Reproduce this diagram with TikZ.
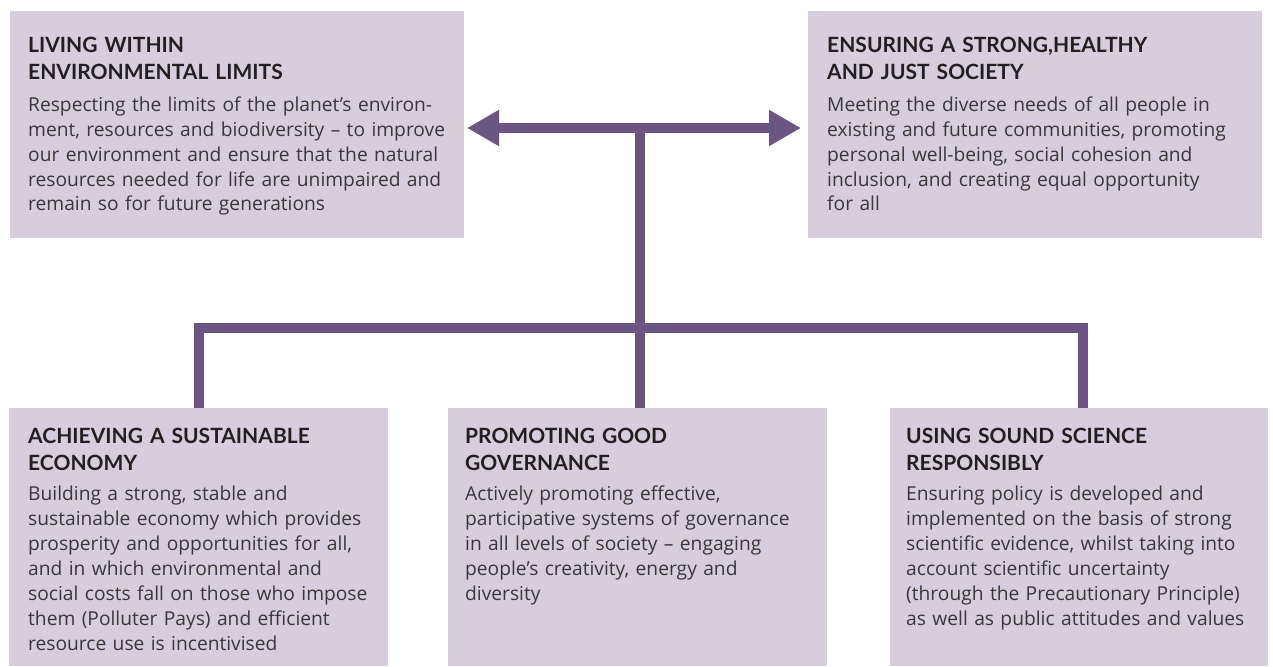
\documentclass[tikz,border=0pt]{standalone}
\usepackage{fontspec}
\setmainfont{Open Sans}
\newfontfamily\ttlfont{Lato}
\usetikzlibrary{arrows.meta}
\definecolor{boxfill}{HTML}{D6CEDD}
\definecolor{purp}{HTML}{6B5583}
\definecolor{ttlc}{HTML}{231F20}
\definecolor{bodyc}{HTML}{3A373A}
\begin{document}
\begin{tikzpicture}[x=1pt,y=1pt,
  panel/.style={fill=boxfill, draw=none, anchor=north west, inner sep=0pt},
  ttl/.style={anchor=base west, inner sep=0pt, align=left, text width=440pt, text=ttlc,
    font=\ttlfont\bfseries\fontsize{21}{27}\selectfont},
  bdy/.style={anchor=base west, inner sep=0pt, align=left, text width=440pt, text=bodyc,
    font=\fontsize{19.2}{25}\selectfont},
  conn/.style={draw=purp, line width=10pt, line join=miter},
  bigtri/.tip={Triangle[length=32pt, width=34pt]}]
\useasboundingbox (0,0) rectangle (1273,-666);
% panels
\node[panel, minimum width=454pt, minimum height=226.5pt] (b1) at (10,-11) {};
\node[panel, minimum width=454pt, minimum height=226.5pt] (b2) at (808,-11) {};
\node[panel, minimum width=379pt, minimum height=258pt] (b3) at (9,-408) {};
\node[panel, minimum width=379pt, minimum height=258pt] (b4) at (448,-408) {};
\node[panel, minimum width=378pt, minimum height=258pt] (b5) at (890,-408) {};
% texts
\node[ttl] (t1) at (28,-53) {LIVING WITHIN\\ENVIRONMENTAL LIMITS};
\node[bdy] (d1) at (28,-111) {Respecting the limits of the planet’s environ-\\ment, resources and biodiversity – to improve\\our environment and ensure that the natural\\resources needed for life are unimpaired and\\remain so for future generations};
\node[ttl] (t2) at (827,-53) {ENSURING A STRONG,HEALTHY\\AND JUST SOCIETY};
\node[bdy] (d2) at (827,-111) {Meeting the diverse needs of all people in\\existing and future communities, promoting\\personal well-being, social cohesion and\\inclusion, and creating equal opportunity\\for all};
\node[ttl] (t3) at (28,-443) {ACHIEVING A SUSTAINABLE\\ECONOMY};
\node[bdy] (d3) at (28,-500) {Building a strong, stable and\\sustainable economy which provides\\prosperity and opportunities for all,\\and in which environmental and\\social costs fall on those who impose\\them (Polluter Pays) and efficient\\resource use is incentivised};
\node[ttl] (t4) at (465,-443) {PROMOTING GOOD\\GOVERNANCE};
\node[bdy] (d4) at (465,-500) {Actively promoting effective,\\participative systems of governance\\in all levels of society – engaging\\people’s creativity, energy and\\diversity};
\node[ttl] (t5) at (906,-443) {USING SOUND SCIENCE\\RESPONSIBLY};
\node[bdy] (d5) at (906,-500) {Ensuring policy is developed and\\implemented on the basis of strong\\scientific evidence, whilst taking into\\account scientific uncertainty\\(through the Precautionary Principle)\\as well as public attitudes and values};
% connector points
\coordinate (aL) at (467,-128);
\coordinate (aR) at (801,-128);
\coordinate (jT) at (639.5,-123);
\coordinate (jB) at (639.5,-408);
\coordinate (s3) at (198.5,-408);
\coordinate (h3) at (198.5,-328);
\coordinate (h5) at (1083,-328);
\coordinate (s5) at (1083,-408);
% connectors
\draw[conn, bigtri-bigtri] (aL) -- (aR);
\draw[conn] (jT) -- (jB);
\draw[conn] (s3) -- (h3) -- (h5) -- (s5);
\end{tikzpicture}
\end{document}
